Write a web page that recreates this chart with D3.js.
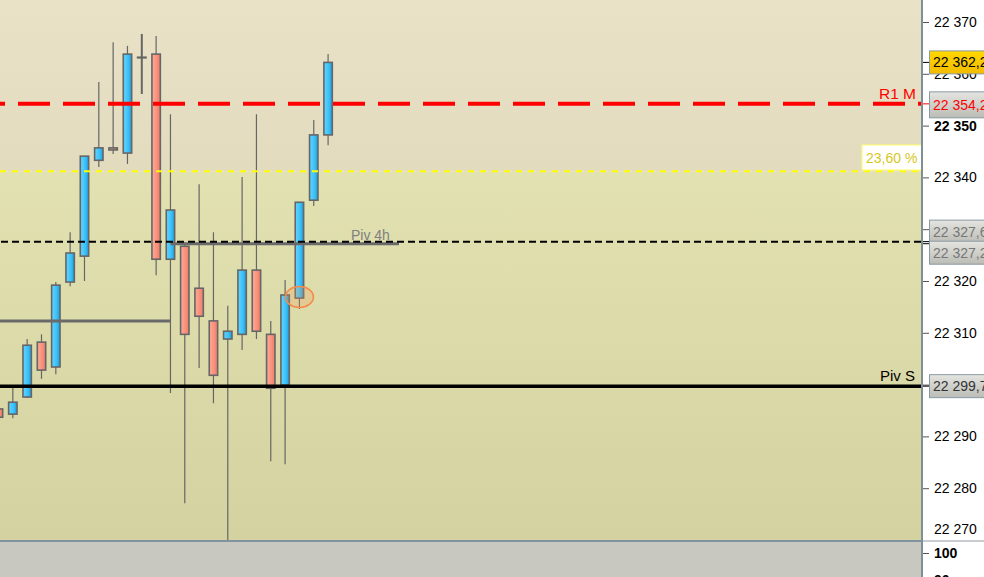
<!DOCTYPE html>
<html><head><meta charset="utf-8">
<script src="https://cdn.jsdelivr.net/npm/d3@7"></script>
<style>html,body{margin:0;padding:0;background:#fff;overflow:hidden}svg{display:block;font-family:"Liberation Sans",Arial,sans-serif}</style>
</head><body><svg id="c" width="984" height="577"></svg>
<script>
// ---- data ----
const candleIdx = d3.range(24);
const opens  = [22295.3,22294.3,22297.6,22308.2,22303.4,22319.8,22324.8,22343.3,22345.7,22344.7,22363.2,22363.8,22324.2,22326.7,22318.6,22312.3,22308.8,22309.7,22322.1,22309.7,22299.9,22316.7,22335.6,22348.2];
const highs  = [22295.6,22299.9,22308.8,22309.7,22319.8,22329.4,22344.1,22358.4,22366.1,22365.4,22367.7,22367.3,22352.2,22327.1,22338.7,22329.4,22315.2,22340.1,22352.2,22312.3,22320.2,22335.2,22351.1,22363.8];
const lows   = [22293.5,22293.5,22297.4,22301.1,22302.0,22319.0,22320.0,22342.0,22344.5,22342.6,22356.1,22321.1,22298.4,22277.1,22303.2,22296.4,22270.0,22306.7,22308.8,22285.2,22284.6,22314.6,22334.5,22346.2];
const closes = [22293.7,22296.6,22307.6,22302.8,22319.2,22325.4,22344.1,22345.7,22345.3,22363.8,22363.2,22324.2,22333.7,22309.7,22313.2,22301.8,22310.3,22322.1,22310.3,22299.3,22317.3,22335.2,22348.2,22362.2];
const yTicks = [22270,22280,22290,22300,22310,22320,22330,22340,22350,22360,22370];
const levelR1M = 22354.2, levelFib = 22341.2, levelPiv4hDash = 22327.6, levelPiv4h = 22327.2, levelOld = 22312.3, levelPivS = 22299.7, lastPrice = 22362.2;
const fibLabel = "23,60 %";
const bottomTicks = [100, 90];

// ---- setup ----
const svg = d3.select("#c");
const W = 984, H = 577, PR = 921, PB = 540;
const x = d3.scaleLinear().domain([0, 23]).range([-1.5, -1.5 + 23 * 14.33]);
const y = d3.scaleLinear().domain([22270, 22370]).range([540, 22]);
const loc = d3.formatLocale({decimal: ",", thousands: " ", grouping: [3], currency: ["", ""]});
const fInt = loc.format(",d"), f1 = loc.format(",.1f");

const defs = svg.append("defs");
function lg(id, stops, vertical) {
  const g = defs.append("linearGradient").attr("id", id).attr("x1", 0).attr("y1", 0).attr("x2", vertical ? 0 : 1).attr("y2", vertical ? 1 : 0);
  stops.forEach(s => g.append("stop").attr("offset", s[0]).attr("stop-color", s[1]));
}
lg("bgTop", [[0, "#e9e2c7"], [1, "#e3dbbe"]], true);
lg("bgBot", [[0, "#e2e1b1"], [1, "#d4d2a0"]], true);
lg("blueG", [[0, "#62d6ff"], [0.6, "#3cc0f8"], [1, "#1a9ee0"]], false);
lg("redG", [[0, "#fdab98"], [0.6, "#f8907c"], [1, "#ee7a66"]], false);
lg("yelBox", [[0, "#ffd800"], [1, "#f2bb00"]], true);
lg("grayBox", [[0, "#e4e4e0"], [1, "#bcbcb6"]], true);
defs.append("clipPath").attr("id", "plotClip").append("rect").attr("x", 0).attr("y", 0).attr("width", PR).attr("height", PB);

// backgrounds
svg.append("rect").attr("x", 0).attr("y", 0).attr("width", PR).attr("height", y(levelFib)).attr("fill", "url(#bgTop)");
svg.append("rect").attr("x", 0).attr("y", y(levelFib)).attr("width", PR).attr("height", PB - y(levelFib)).attr("fill", "url(#bgBot)");
svg.append("rect").attr("x", 0).attr("y", PB).attr("width", PR).attr("height", H - PB).attr("fill", "#c8c8c1");

const plot = svg.append("g").attr("clip-path", "url(#plotClip)");

// candles
const data = candleIdx.map(i => ({i, o: opens[i], h: highs[i], l: lows[i], c: closes[i]}));
const cg = plot.append("g").selectAll("g").data(data).join("g");
cg.append("line").attr("x1", d => x(d.i)).attr("x2", d => x(d.i))
  .attr("y1", d => y(d.h)).attr("y2", d => y(d.l))
  .attr("stroke", "#666").attr("stroke-width", d => d.o === d.c ? 2 : 1.2);
cg.append("rect")
  .attr("x", d => x(d.i) - 4.2).attr("width", 8.4)
  .attr("y", d => y(Math.max(d.o, d.c)))
  .attr("height", d => Math.max(0.6, Math.abs(y(d.o) - y(d.c))))
  .attr("fill", d => d.c > d.o ? "url(#blueG)" : "url(#redG)")
  .attr("stroke", "#666").attr("stroke-width", 1.6);

// level lines
plot.append("line").attr("x1", 0).attr("x2", PR).attr("y1", y(levelFib)).attr("y2", y(levelFib))
  .attr("stroke", "#ffff00").attr("stroke-width", 2).attr("stroke-dasharray", "6,6");
plot.append("line").attr("x1", 0).attr("x2", PR + 1).attr("y1", y(levelR1M)).attr("y2", y(levelR1M))
  .attr("stroke", "#ff0000").attr("stroke-width", 4).attr("stroke-dasharray", "32,13").attr("stroke-dashoffset", 27);
plot.append("line").attr("x1", x(12)).attr("x2", 399).attr("y1", y(levelPiv4h)).attr("y2", y(levelPiv4h))
  .attr("stroke", "#6a6a6a").attr("stroke-width", 3);
plot.append("line").attr("x1", 0).attr("x2", PR).attr("y1", y(levelPiv4hDash)).attr("y2", y(levelPiv4hDash))
  .attr("stroke", "#000").attr("stroke-width", 2).attr("stroke-dasharray", "7,4").attr("stroke-dashoffset", -1);
plot.append("line").attr("x1", 0).attr("x2", x(12)).attr("y1", y(levelOld)).attr("y2", y(levelOld))
  .attr("stroke", "#6a6a6a").attr("stroke-width", 3);
plot.append("line").attr("x1", 0).attr("x2", PR).attr("y1", y(levelPivS)).attr("y2", y(levelPivS))
  .attr("stroke", "#000").attr("stroke-width", 3.5);

// highlight ellipse
plot.append("ellipse").attr("cx", x(21)).attr("cy", y(22316.9)).attr("rx", 14).attr("ry", 10.5)
  .attr("fill", "rgba(245,150,80,0.25)").attr("stroke", "#f58a4a").attr("stroke-width", 1.6);

// level texts
svg.append("text").attr("x", 916).attr("y", y(levelR1M) - 5).attr("text-anchor", "end")
  .attr("font-size", 15.5).attr("fill", "#ff0000").text("R1 M");
svg.append("rect").attr("x", 862).attr("y", 145).attr("width", 60).attr("height", 25)
  .attr("fill", "#fff").attr("stroke", "#ffff66").attr("stroke-width", 1);
svg.append("text").attr("x", 866).attr("y", 158).attr("dy", ".35em")
  .attr("font-size", 14).attr("fill", "#d8c81c").text(fibLabel);
svg.append("text").attr("x", 351).attr("y", y(levelPiv4h) - 4).attr("font-size", 14).attr("fill", "#808080").text("Piv 4h");
svg.append("text").attr("x", 915).attr("y", y(levelPivS) - 5).attr("text-anchor", "end")
  .attr("font-size", 15).attr("fill", "#000").text("Piv S");

// right axis area
svg.append("rect").attr("x", PR + 1).attr("y", 0).attr("width", W - PR).attr("height", H).attr("fill", "#fff");
const ax = svg.append("g").attr("transform", `translate(${PR + 2},0)`)
  .call(d3.axisRight(y).tickValues(yTicks).tickSize(6).tickPadding(5).tickFormat(d => fInt(d)));
ax.select(".domain").remove();
ax.selectAll(".tick line").attr("stroke", "#555");
ax.selectAll(".tick text").attr("font-size", 14).attr("font-family", "'Liberation Sans',Arial,sans-serif").attr("fill", "#000")
  .attr("font-weight", d => d === 22350 ? "bold" : "normal")
  .attr("dy", d => d === 22270 ? "-0.5em" : "0.32em");

// bottom panel axis
const yb = d3.scaleLinear().domain([90, 100]).range([580, 553]);
const axb = svg.append("g").attr("transform", `translate(${PR + 2},0)`)
  .call(d3.axisRight(yb).tickValues(bottomTicks).tickSize(6).tickPadding(5));
axb.select(".domain").remove();
axb.selectAll(".tick line").attr("stroke", "#555");
axb.selectAll(".tick text").attr("font-size", 14).attr("font-family", "'Liberation Sans',Arial,sans-serif").attr("fill", "#000")
  .attr("font-weight", "bold");

// separators
svg.append("line").attr("x1", 0).attr("x2", W).attr("y1", PB + 1).attr("y2", PB + 1).attr("stroke", "#8094a0").attr("stroke-width", 2);
svg.append("line").attr("x1", PR + 2).attr("x2", W).attr("y1", PB + 1).attr("y2", PB + 1).attr("stroke", "#c8ccd0").attr("stroke-width", 2);
svg.append("line").attr("x1", PR + 1).attr("x2", PR + 1).attr("y1", 0).attr("y2", H).attr("stroke", "#7f8f98").attr("stroke-width", 2);

// price label boxes
function box(v, yc, fillId, txt, color, h) {
  h = h || 23;
  svg.append("rect").attr("x", 929.5).attr("y", yc - h / 2).attr("width", 70).attr("height", h)
    .attr("fill", `url(#${fillId})`).attr("stroke", "#8a9aa2").attr("stroke-width", 1);
  svg.append("text").attr("x", 933).attr("y", yc).attr("dy", ".36em").attr("font-size", 14).attr("fill", color).text(txt);
  svg.append("line").attr("x1", PR + 2).attr("x2", 929).attr("y1", y(v)).attr("y2", y(v)).attr("stroke", color === "#ff0000" ? "#ff0000" : "#000").attr("stroke-width", 1);
}
box(lastPrice, y(lastPrice), "yelBox", f1(lastPrice), "#000");
box(levelR1M, y(levelR1M) + 1, "grayBox", f1(levelR1M), "#ff0000", 26);
box(levelPiv4hDash, y(levelPiv4hDash) - 10, "grayBox", f1(levelPiv4hDash), "#777");
box(levelPiv4h, y(levelPiv4h) + 9, "grayBox", f1(levelPiv4h), "#777");
box(levelPivS, y(levelPivS), "grayBox", f1(levelPivS), "#333");
</script></body></html>
